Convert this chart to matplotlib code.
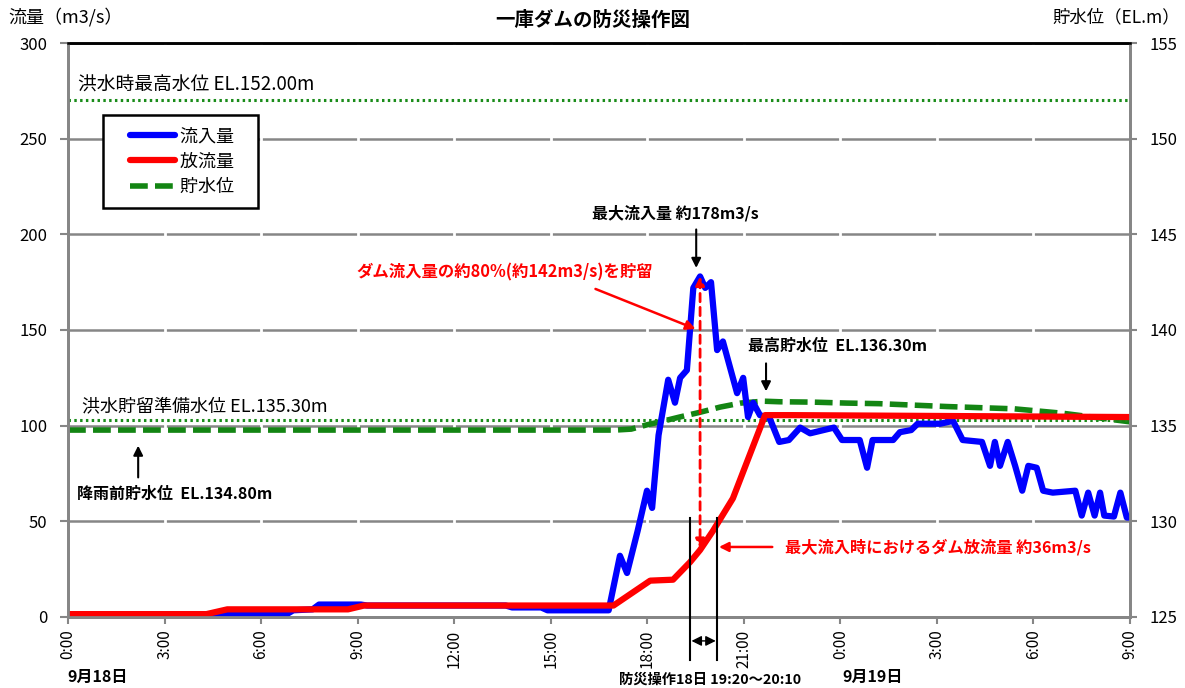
import matplotlib
matplotlib.use('Agg')
from matplotlib import pyplot as plt
from matplotlib.lines import Line2D
from matplotlib.legend_handler import HandlerLine2D

plt.rcParams['font.family'] = ['Noto Sans CJK JP', 'DejaVu Sans']

# 時刻は 9/18 0:00 からの経過時間(h)
inflow_t = [0, 6.75, 7.0, 7.6, 7.8, 9.1, 9.3, 13.6, 13.8, 14.7, 14.9, 16.8,
            17.15, 17.37, 17.7, 17.99, 18.15, 18.35, 18.65, 18.86, 19.02, 19.23,
            19.43, 19.64, 19.8, 19.98, 20.17, 20.35, 20.79, 20.98, 21.13, 21.29,
            21.5, 21.8, 22.1, 22.4, 22.75, 23.06, 23.8, 24.05, 24.6, 24.83, 25.0,
            25.64, 25.85, 26.2, 26.4, 27.1, 27.5, 27.8, 28.4, 28.65, 28.8, 28.96,
            29.2, 29.43, 29.65, 29.84, 30.1, 30.3, 30.6, 31.3, 31.5, 31.7, 31.9,
            32.07, 32.2, 32.5, 32.7, 32.9, 33]
inflow = [1, 1, 3.5, 4, 6.5, 6.5, 6, 6, 5, 5, 3.5, 3.5,
          32, 23, 45, 66, 57, 95, 124, 112, 125, 129,
          172, 178, 172, 175, 139.5, 144, 117, 125, 104.5, 112,
          105.5, 104, 91.5, 92.5, 99, 96, 99, 92.5, 92.5, 78, 92.5,
          92.5, 96.6, 97.7, 101, 101, 102.5, 92.5, 91.5, 79, 91.5, 79,
          91.5, 79, 66, 79, 78, 66, 65, 66, 53, 65, 53,
          65, 53, 52.5, 65, 52, 52]

outflow_t = [0, 4.3, 4.95, 8.7, 9.2, 16.95, 18.09, 18.8, 19.33, 19.64, 20.04,
             20.66, 21.66, 22.5, 33]
outflow = [1.5, 1.5, 4, 4, 6, 6, 19, 19.5, 28.7, 35, 45,
           62, 105.5, 105.5, 104.5]

level_t = [0, 17.0, 17.5, 18.0, 18.4, 19.0, 19.64, 20.26, 20.9, 21.6, 22.1,
           23.15, 24.2, 25.2, 27.3, 29.4, 30.9, 33]
level = [134.77, 134.77, 134.82, 135.05, 135.2, 135.45, 135.7, 135.97, 136.18,
         136.28, 136.25, 136.23, 136.18, 136.15, 136.0, 135.88, 135.65, 135.2]

flood_max_level = 152.00
prep_level = 135.30

xticks = [0, 3, 6, 9, 12, 15, 18, 21, 24, 27, 30, 33]
xtick_labels = ['0:00', '3:00', '6:00', '9:00', '12:00', '15:00', '18:00',
                '21:00', '0:00', '3:00', '6:00', '9:00']
op_start, op_end = 19.33, 20.17  # 19:20〜20:10

grey = '#868686'

fig = plt.figure(figsize=(11.85, 6.88), dpi=100)
ax = fig.add_axes([0.0574, 0.1032, 0.8962, 0.8343])
ax2 = ax.twinx()
ax.set_zorder(ax2.get_zorder() + 1)
ax.patch.set_visible(False)
ax2.patch.set_visible(True)
ax2.patch.set_facecolor('white')

# 貯水位側(下の層)
ax2.set_xlim(0, 33)
ax2.set_ylim(125, 155)
ax2.set_yticks(range(125, 156, 5))
ax2.grid(axis='y', color=grey, lw=1.8)
for h in xticks[1:-1]:
    ax2.axvline(h, color='white', lw=2, zorder=1.6)
ax2.axhline(flood_max_level, color='#1a8c1a', lw=2.2, ls=(0, (0.8, 1.1)), zorder=3)
ax2.axhline(prep_level, color='#1a8c1a', lw=2.2, ls=(0, (0.8, 1.1)), zorder=3)
lv, = ax2.plot(level_t, level, color='#138513', lw=4, ls=(0, (3.2, 1.3)),
               zorder=2.5, label='貯水位')

# 流量側
ax.set_xlim(0, 33)
ax.set_ylim(0, 300)
ax.set_yticks(range(0, 301, 50))
ax.set_xticks(xticks)
ax.set_xticklabels(xtick_labels, rotation=90)
qi, = ax.plot(inflow_t, inflow, color='#0000ff', lw=4.5, solid_joinstyle='round',
              solid_capstyle='round', label='流入量')
qo, = ax.plot(outflow_t, outflow, color='#ff0000', lw=4.5, solid_joinstyle='round',
              solid_capstyle='round', label='放流量')

for a in (ax, ax2):
    for s in ('left', 'right', 'bottom'):
        a.spines[s].set_color(grey)
        a.spines[s].set_linewidth(2)
    a.spines['top'].set_color('black')
    a.spines['top'].set_linewidth(1.8)
ax.tick_params(axis='y', length=6, width=1.5, color=grey, pad=9, labelsize=12)
ax2.tick_params(axis='y', length=5, width=1.5, color=grey, pad=9, labelsize=12)
ax.tick_params(axis='x', length=5, width=1.5, color=grey, pad=4, labelsize=11)

leg = ax.legend(handles=[qi, qo, lv], labels=['流入量   ', '放流量   ', '貯水位   '],
                loc='upper left', bbox_to_anchor=(0.033, 0.875), borderaxespad=0,
                fontsize=13, handlelength=3.3, labelspacing=0.4, borderpad=0.7,
                handletextpad=0.25, fancybox=False, framealpha=1, edgecolor='black',
                handler_map={Line2D: HandlerLine2D(xpad=0.8)})
leg.get_frame().set_linewidth(1.8)

# 注記
ax.text(0.31, 278, '洪水時最高水位 EL.152.00m', fontsize=13.5, va='center')
ax.text(0.44, 110, '洪水貯留準備水位 EL.135.30m', fontsize=13, va='center')
ax.text(0.28, 64.5, '降雨前貯水位  EL.134.80m', fontsize=11.5, fontweight='bold', va='center')
ax.annotate('', xy=(2.18, 91), xytext=(2.18, 71.5),
            arrowprops=dict(arrowstyle='-|>', color='black', lw=1.5, mutation_scale=14))

ax.text(18.86, 211, '最大流入量 約178m3/s', fontsize=11.5, fontweight='bold',
        ha='center', va='center')
ax.annotate('', xy=(19.52, 181), xytext=(19.52, 204),
            arrowprops=dict(arrowstyle='-|>', color='black', lw=1.5, mutation_scale=14))

ax.text(13.58, 180, 'ダム流入量の約80%(約142m3/s)を貯留', fontsize=11.8, fontweight='bold',
        color='#ff0000', ha='center', va='center')
ax.annotate('', xy=(19.58, 150), xytext=(16.31, 172),
            arrowprops=dict(arrowstyle='-|>', color='#ff0000', lw=1.8, mutation_scale=14))
ax.annotate('', xy=(19.64, 36), xytext=(19.64, 178),
            arrowprops=dict(arrowstyle='<|-|>', color='#ff0000', lw=2, ls=(0, (3, 2)),
                            mutation_scale=13, shrinkA=0, shrinkB=0))

ax.text(21.13, 141.5, '最高貯水位  EL.136.30m', fontsize=11.5, fontweight='bold', va='center')
ax.annotate('', xy=(21.69, 116.5), xytext=(21.69, 134),
            arrowprops=dict(arrowstyle='-|>', color='black', lw=1.5, mutation_scale=14))

ax.text(22.28, 36.6, '最大流入時におけるダム放流量 約36m3/s', fontsize=11.7, fontweight='bold',
        color='#ff0000', va='center')
ax.annotate('', xy=(20.14, 36.6), xytext=(21.97, 36.6),
            arrowprops=dict(arrowstyle='-|>', color='#ff0000', lw=1.8, mutation_scale=14))

# 防災操作の期間
for h in (op_start, op_end):
    ax.plot([h, h], [51.7, -22.5], color='black', lw=1.5, clip_on=False, zorder=5)
ax.annotate('', xy=(op_end, -12.5), xytext=(op_start, -12.5), annotation_clip=False,
            arrowprops=dict(arrowstyle='<|-|>', color='black', lw=1, mutation_scale=15,
                            shrinkA=1, shrinkB=1))

fig.text(0.5, 0.971, '一庫ダムの防災操作図', fontsize=14, fontweight='bold',
         ha='center', va='center')
fig.text(0.007, 0.975, '流量（m3/s）', fontsize=13, va='center')
fig.text(0.996, 0.975, '貯水位（EL.m）', fontsize=12.5, va='center', ha='right')
fig.text(0.057, 0.016, '9月18日', fontsize=11.5, fontweight='bold', va='center')
fig.text(0.711, 0.016, '9月19日', fontsize=11.5, fontweight='bold', va='center')
fig.text(0.599, 0.0116, '防災操作18日 19:20〜20:10', fontsize=10.3, fontweight='bold',
         ha='center', va='center')

fig.savefig('out.png', dpi=100)
